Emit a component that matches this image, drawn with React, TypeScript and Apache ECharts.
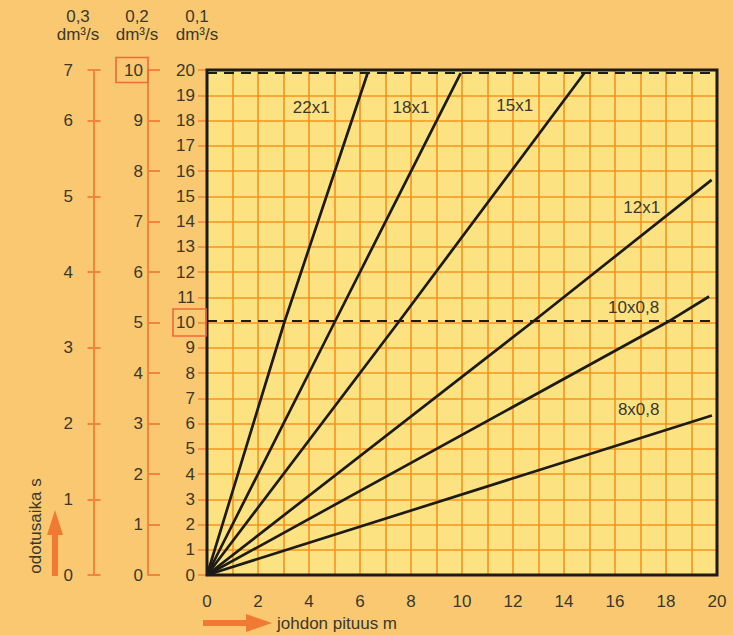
import React, { useEffect, useRef } from 'react';
import * as echarts from 'echarts';

const W = 733;
const H = 635;
const G_LEFT = 207;
const G_TOP = 70;
const G_W = 510;
const G_H = 505;

// axes ranges / tick labels
const X_MAX = 20;
const Y_MAX = 20;
const xLabelValues = [0, 2, 4, 6, 8, 10, 12, 14, 16, 18, 20];
// 0,2 dm3/s scale: label -> position on main (0,1 dm3/s) scale
const axisBLabels = ['0', '1', '2', '3', '4', '5', '6', '7', '8', '9', '10'];
const axisBValues = [0, 2, 4, 6, 8, 10, 12, 14, 16, 18, 20];
// 0,3 dm3/s scale
const axisALabels = ['0', '1', '2', '3', '4', '5', '6', '7'];
const axisAValues = [0, 3, 6, 9, 12, 15, 18, 20];

// lines (johdon pituus m, odotusaika s)
const seriesNames = ['22x1', '18x1', '15x1', '12x1', '10x0,8', '8x0,8'];
const line22x1 = [[0, 0], [3.03, 10], [6.3, 19.88]];
const line18x1 = [[0, 0], [5.0, 10], [9.95, 19.88]];
const line15x1 = [[0, 0], [7.5, 10], [14.8, 19.88]];
const line12x1 = [[0, 0], [12.74, 10], [19.79, 15.65]];
const line10x08 = [[0, 0], [18.2, 10.1], [19.69, 11.03]];
const line8x08 = [[0, 0], [19.8, 6.32]];
const seriesData = [line22x1, line18x1, line15x1, line12x1, line10x08, line8x08];
const dashedLevels = [19.88, 10.05];

// label anchors in data coordinates
const labelAnchors = [[4.09, 18.53], [8.0, 18.53], [12.07, 18.59], [17.05, 14.57], [16.73, 10.6], [16.93, 6.54]];

const BG = '#F9C870';
const PLOT_BG = '#FDE282';
const GRID_C = '#F7931E';
const AXIS_C = '#F4843A';
const BOX_C = '#EE6A3A';
const TXT = '#3a382c';
const INK = '#1d1b16';
const FONT = '"Liberation Sans", Arial, Helvetica, sans-serif';

const yToPx = (v: number) => G_TOP + (1 - v / Y_MAX) * G_H;

function buildOption() {
  const series: any[] = seriesNames.map((name, i) => ({
    name,
    type: 'line',
    xAxisIndex: 0,
    yAxisIndex: 0,
    data: seriesData[i],
    symbol: 'none',
    z: 5,
    lineStyle: { color: INK, width: 2.7 },
    markPoint: {
      silent: true,
      symbol: 'circle',
      symbolSize: 0,
      data: [{ coord: labelAnchors[i], value: name }],
      label: {
        show: true,
        position: 'inside',
        formatter: name,
        color: TXT,
        fontSize: 17,
        fontFamily: FONT,
      },
    },
  }));
  series[0].markLine = {
    silent: true,
    symbol: ['none', 'none'],
    label: { show: false },
    lineStyle: { color: INK, width: 2.2, type: [10, 7] },
    data: dashedLevels.map((v) => ({ yAxis: v })),
  };

  const headers = [
    { x: 78, t: '0,3' },
    { x: 137, t: '0,2' },
    { x: 197, t: '0,1' },
  ];

  const graphic: any[] = [
    // plot frame
    {
      type: 'rect',
      z: 100,
      shape: { x: G_LEFT, y: G_TOP, width: G_W, height: G_H },
      style: { fill: 'none', stroke: INK, lineWidth: 3 },
    },
    // boxed labels
    {
      type: 'rect',
      z: 100,
      shape: { x: 173, y: yToPx(10) - 13.5, width: 33, height: 27 },
      style: { fill: 'none', stroke: BOX_C, lineWidth: 1.6 },
    },
    {
      type: 'rect',
      z: 100,
      shape: { x: 116, y: yToPx(20) - 12.5, width: 32, height: 25 },
      style: { fill: 'none', stroke: BOX_C, lineWidth: 1.6 },
    },
    ...headers.map((h) => ({
      type: 'text',
      z: 100,
      x: h.x,
      y: 7,
      style: {
        text: h.t + '\ndm³/s',
        fill: TXT,
        fontSize: 17,
        fontFamily: FONT,
        align: 'center',
        verticalAlign: 'top',
        lineHeight: 18,
      },
    })),
    // y name
    {
      type: 'text',
      z: 100,
      x: 35,
      y: 526,
      rotation: Math.PI / 2,
      style: {
        text: 'odotusaika s',
        fill: TXT,
        fontSize: 17,
        fontFamily: FONT,
        align: 'center',
        verticalAlign: 'middle',
      },
    },
    // up arrow
    {
      type: 'polygon',
      z: 100,
      shape: { points: [[52, 576], [58, 576], [58, 535], [63, 535], [55, 510], [47, 535], [52, 535]] },
      style: { fill: '#F07A33' },
    },
    // x name
    {
      type: 'text',
      z: 100,
      x: 277,
      y: 623,
      style: {
        text: 'johdon pituus m',
        fill: TXT,
        fontSize: 17,
        fontFamily: FONT,
        align: 'left',
        verticalAlign: 'middle',
      },
    },
    // right arrow
    {
      type: 'polygon',
      z: 100,
      shape: { points: [[203, 620], [246, 620], [246, 614], [272, 623], [246, 632], [246, 626], [203, 626]] },
      style: { fill: '#F07A33' },
    },
  ];

  const labelBase = { color: TXT, fontSize: 17, fontFamily: FONT };

  return {
    animation: false,
    backgroundColor: BG,
    textStyle: { fontFamily: FONT },
    grid: {
      left: G_LEFT,
      top: G_TOP,
      width: G_W,
      height: G_H,
      show: true,
      backgroundColor: PLOT_BG,
      borderWidth: 0,
      containLabel: false,
    },
    xAxis: [
      {
        type: 'value',
        min: 0,
        max: X_MAX,
        interval: 1,
        axisLine: { show: false },
        axisTick: { show: false },
        splitLine: { show: true, lineStyle: { color: GRID_C, width: 1.6 } },
        axisLabel: {
          ...labelBase,
          margin: 18,
          formatter: (v: number) => (xLabelValues.indexOf(v) >= 0 ? String(v) : ''),
        },
      },
    ],
    yAxis: [
      {
        type: 'value',
        min: 0,
        max: Y_MAX,
        interval: 1,
        position: 'left',
        offset: 0,
        axisLine: { show: false, onZero: false },
        axisTick: { show: true, length: 9, lineStyle: { color: AXIS_C, width: 1.5 } },
        splitLine: { show: true, lineStyle: { color: GRID_C, width: 1.6 } },
        axisLabel: { ...labelBase, margin: 12 },
      },
      {
        type: 'value',
        min: 0,
        max: Y_MAX,
        position: 'left',
        offset: G_LEFT - 148,
        axisLine: { show: true, onZero: false, lineStyle: { color: AXIS_C, width: 2 } },
        axisTick: {
          show: true,
          inside: true,
          length: 12,
          customValues: axisBValues,
          lineStyle: { color: AXIS_C, width: 2 },
        },
        splitLine: { show: false },
        axisLabel: {
          ...labelBase,
          margin: 5,
          customValues: axisBValues,
          formatter: (v: number) => {
            const i = axisBValues.indexOf(v);
            return i >= 0 ? axisBLabels[i] : '';
          },
        },
      },
      {
        type: 'value',
        min: 0,
        max: Y_MAX,
        position: 'left',
        offset: G_LEFT - 94,
        axisLine: { show: true, onZero: false, lineStyle: { color: AXIS_C, width: 2 } },
        axisTick: {
          show: true,
          length: 6.5,
          customValues: axisAValues,
          lineStyle: { color: AXIS_C, width: 2 },
        },
        splitLine: { show: false },
        axisLabel: {
          ...labelBase,
          margin: 21,
          customValues: axisAValues,
          formatter: (v: number) => {
            const i = axisAValues.indexOf(v);
            return i >= 0 ? axisALabels[i] : '';
          },
        },
      },
      {
        type: 'value',
        min: 0,
        max: Y_MAX,
        position: 'left',
        offset: G_LEFT - 94,
        axisLine: { show: false, onZero: false },
        axisTick: {
          show: true,
          inside: true,
          length: 6.5,
          customValues: axisAValues,
          lineStyle: { color: AXIS_C, width: 2 },
        },
        splitLine: { show: false },
        axisLabel: { show: false },
      },
    ],
    series,
    graphic,
  };
}

export default function App() {
  const ref = useRef<HTMLDivElement>(null);
  useEffect(() => {
    document.body.style.margin = '0';
    const chart = echarts.init(ref.current as HTMLDivElement, null, { renderer: 'svg', width: W, height: H });
    chart.setOption(buildOption() as any);
    return () => {
      chart.dispose();
    };
  }, []);
  return <div ref={ref} style={{ width: W, height: H, background: BG }} />;
}
